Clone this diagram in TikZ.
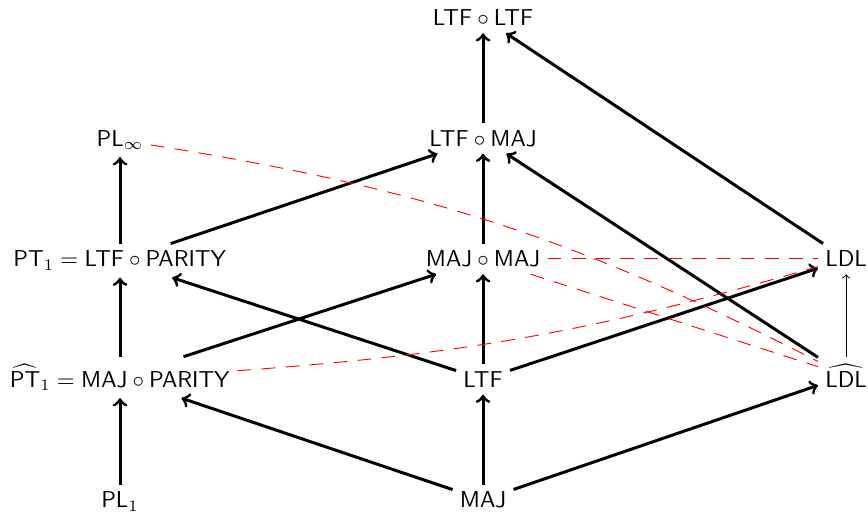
\documentclass[tikz,border=0pt]{standalone}
\usepackage{amsmath,amssymb}
\usepackage{tikz}

\begin{document}
\begin{tikzpicture}[>=to]
    % Parameters
    \def\xa{1.835} % x of the left column
    \def\dx{5.55}  % column spacing
    \def\yb{0.076} % baseline of the bottom row
    \def\dy{1.842} % row spacing

    % Styles
    \tikzset{
        cls/.style={anchor=base, inner sep=3pt},
        incl/.style={->, line width=1.3pt},
        weak/.style={->, thin},
        sep/.style={red, thin, dash pattern=on 6pt off 4.5pt},
    }

    \useasboundingbox (0,0) rectangle (13.27,7.84);

    % Left column
    \node[cls] (pl1)    at (\xa, \yb)        {$\mathsf{PL}_1$};
    \node[cls] (hatpt1) at (\xa, \yb+\dy)    {$\widehat{\mathsf{PT}}_1 = \mathsf{MAJ} \circ \mathsf{PARITY}$};
    \node[cls] (pt1)    at (\xa, \yb+2*\dy)  {$\mathsf{PT}_1 = \mathsf{LTF} \circ \mathsf{PARITY}$};
    \node[cls] (plinf)  at (\xa, \yb+3*\dy)  {$\mathsf{PL}_\infty$};

    % Middle column
    \node[cls] (maj)    at (\xa+\dx, \yb)       {$\mathsf{MAJ}$};
    \node[cls] (ltf)    at (\xa+\dx, \yb+\dy)   {$\mathsf{LTF}$};
    \node[cls] (majmaj) at (\xa+\dx, \yb+2*\dy) {$\mathsf{MAJ} \circ \mathsf{MAJ}$};
    \node[cls] (ltfmaj) at (\xa+\dx, \yb+3*\dy) {$\mathsf{LTF} \circ \mathsf{MAJ}$};
    \node[cls] (ltfltf) at (\xa+\dx, \yb+4*\dy) {$\mathsf{LTF} \circ \mathsf{LTF}$};

    % Right column
    \node[cls] (hatldl) at (\xa+2*\dx, \yb+\dy)   {$\widehat{\mathsf{LDL}}$};
    \node[cls] (ldl)    at (\xa+2*\dx, \yb+2*\dy) {$\mathsf{LDL}$};

    % Inclusions
    \draw[incl] (pl1) -- (hatpt1);
    \draw[incl] (hatpt1) -- (pt1);
    \draw[incl] (pt1) -- (plinf);
    \draw[incl] (maj) -- (hatpt1);
    \draw[incl] (maj) -- (ltf);
    \draw[incl] (maj) -- (hatldl);
    \draw[incl] (ltf) -- (pt1);
    \draw[incl] (ltf) -- (majmaj);
    \draw[incl] (ltf) -- (ldl);
    \draw[incl] (hatpt1) -- (majmaj);
    \draw[incl] (pt1) -- (ltfmaj);
    \draw[incl] (majmaj) -- (ltfmaj);
    \draw[incl] (hatldl) -- (ltfmaj);
    \draw[incl] (ltfmaj) -- (ltfltf);
    \draw[incl] (ldl) -- (ltfltf);
    \draw[weak] (hatldl) -- (ldl);

    % Separations
    \draw[sep] (plinf) to[bend left=9] (hatldl);
    \draw[sep] (majmaj) -- (hatldl);
    \draw[sep] (majmaj) -- (ldl);
    \draw[sep] (hatpt1) to[bend right=6] (ldl);
\end{tikzpicture}
\end{document}
